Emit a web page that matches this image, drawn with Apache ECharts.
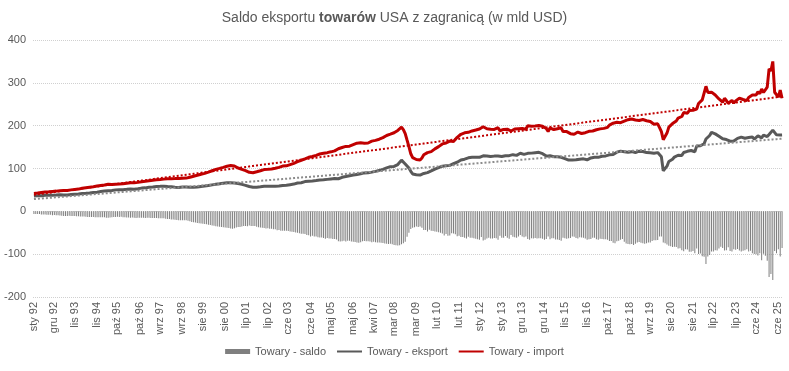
<!DOCTYPE html>
<html><head><meta charset="utf-8">
<script src="https://cdn.jsdelivr.net/npm/echarts@6/dist/echarts.min.js"></script>
<style>html,body{margin:0;padding:0;background:#fff}#c{width:789px;height:371px}</style>
</head><body><div id="c"></div>
<script>
const monthNames = ['sty','lut','mar','kwi','maj','cze','lip','sie','wrz','paź','lis','gru'];
const firstYear = 1992, lastYear = 2025, lastMonth = 8;

// Towary - eksport (mld USD, miesięcznie, sty 1992 - sie 2025)
const eksport = [
35.5,36.0,36.3,36.6,36.2,36.8,37.4,37.0,37.8,38.1,37.6,38.3,
37.9,38.2,38.8,38.5,38.0,38.3,38.1,38.9,39.2,39.8,40.1,40.5,
40.3,41.0,41.5,41.9,42.2,42.5,43.0,43.6,44.1,44.0,44.8,45.6,
46.2,46.9,47.4,47.7,48.3,48.6,48.8,49.5,50.1,50.4,50.6,51.3,
50.6,51.0,51.3,51.7,52.1,52.0,51.8,52.4,52.8,53.5,54.2,54.6,
54.8,55.9,56.3,56.8,57.0,57.5,58.1,57.9,58.3,58.5,58.8,58.4,
58.0,57.8,57.5,57.2,56.5,56.0,55.9,56.4,56.9,57.0,56.8,56.5,
56.1,55.8,56.5,56.8,57.0,57.5,58.1,58.6,59.0,59.6,60.1,60.8,
61.8,62.4,63.0,63.6,64.2,65.1,65.6,66.5,67.0,67.3,66.8,66.1,
66.3,65.9,64.8,63.5,62.9,62.1,60.7,59.8,57.9,56.4,56.1,56.9,
56.5,56.9,57.3,57.9,58.4,58.1,58.6,58.0,58.5,57.9,58.3,57.8,
58.9,59.6,60.1,60.6,61.0,61.8,62.3,62.5,63.6,64.8,66.0,66.9,
66.8,68.3,69.4,69.0,70.4,69.6,71.0,71.4,71.9,72.6,72.9,73.8,
73.6,74.0,74.6,75.2,75.5,76.1,76.4,77.2,76.1,77.9,79.5,80.3,
81.2,81.7,83.1,83.6,84.8,85.5,86.2,87.0,87.6,88.4,89.7,90.1,
89.8,90.8,91.5,92.7,93.3,93.8,95.6,96.8,97.9,99.2,101.4,101.9,
104.3,106.0,104.9,107.8,109.2,112.5,119.5,116.3,110.6,106.9,101.0,93.4,
87.3,85.2,85.6,84.0,84.6,86.2,88.4,87.9,90.3,93.4,94.3,97.6,
98.6,99.8,102.0,103.3,105.4,104.9,106.6,106.2,107.3,110.9,111.1,113.0,
114.7,115.8,120.0,121.5,121.8,122.8,125.0,126.2,126.1,125.5,126.0,126.3,
126.0,128.1,129.5,128.1,129.0,128.3,127.8,126.6,128.9,126.5,129.0,131.0,
128.0,129.4,129.9,130.3,130.0,132.4,132.3,132.0,130.6,134.2,135.5,134.7,
132.9,133.0,135.4,135.0,135.9,136.6,136.9,137.1,137.7,136.3,134.6,134.3,
128.9,127.7,129.6,128.6,127.7,126.2,127.3,124.4,126.1,125.0,122.9,122.0,
119.6,119.1,119.6,120.5,120.2,121.8,121.8,120.9,122.5,120.4,120.3,121.7,
124.7,125.9,126.4,125.4,126.1,128.3,128.6,128.5,129.4,129.9,131.9,132.3,
132.6,134.2,138.2,139.3,140.6,142.0,139.3,137.4,138.0,140.1,139.3,138.6,
137.2,138.9,140.4,136.4,139.7,136.8,137.1,138.0,136.7,137.5,135.7,137.9,
137.1,136.6,127.2,94.4,92.0,105.4,116.5,119.0,121.6,126.7,127.7,131.0,
134.4,130.6,137.4,139.5,140.1,141.0,142.0,143.4,139.1,152.3,152.0,153.1,
155.5,157.9,168.9,172.4,177.1,184.3,180.9,180.8,181.6,175.3,175.7,169.3,
172.5,167.7,168.2,163.9,165.1,164.2,168.0,170.3,172.3,173.2,168.9,170.5,
170.3,172.2,172.9,173.6,168.8,171.4,176.1,176.5,171.5,178.1,176.3,174.5,
179.5,181.0,189.6,185.5,178.5,177.8,178.0,178.2
];

// Towary - import (mld USD, miesięcznie, sty 1992 - sie 2025)
const importT = [
41.5,42.0,42.6,43.1,43.8,44.4,44.9,45.2,45.6,46.2,46.5,47.0,
47.2,47.5,48.3,48.6,48.9,49.2,48.8,49.5,50.1,50.6,51.0,51.8,
51.9,52.8,53.7,54.2,55.1,55.6,56.3,57.1,57.5,58.0,58.9,59.6,
60.2,61.0,61.5,62.4,63.1,63.0,62.5,62.8,63.4,63.1,63.6,63.9,
64.3,65.0,65.5,66.2,66.8,66.5,67.0,67.9,67.6,68.3,68.9,69.5,
70.1,70.8,71.5,72.2,72.6,72.9,73.5,74.0,74.3,74.8,75.2,75.6,
75.8,75.5,76.3,76.0,76.4,76.1,76.8,77.2,77.5,77.9,77.6,78.3,
79.5,80.8,81.9,83.0,84.1,85.3,86.7,87.5,88.6,89.9,91.5,92.7,
94.8,96.3,98.0,99.1,100.2,101.8,102.6,104.0,105.3,106.1,106.8,106.5,
105.8,103.9,101.2,99.8,98.1,96.5,95.0,94.6,91.0,90.8,90.2,91.1,
92.5,93.8,94.9,96.2,97.4,97.9,98.1,98.7,99.0,99.5,100.4,101.8,
102.6,104.7,105.6,105.8,106.2,108.0,109.1,110.2,112.0,114.1,115.9,117.8,
119.2,120.6,122.4,124.5,126.1,128.5,128.0,129.9,130.7,133.0,133.8,134.6,
135.6,137.8,137.0,138.6,138.9,140.5,141.2,142.8,146.1,148.6,149.1,149.0,
151.6,150.3,152.0,153.8,155.6,157.3,159.2,160.6,159.9,158.1,158.9,160.2,
159.6,161.4,163.9,164.0,165.6,166.8,168.4,170.3,172.1,174.5,177.1,178.3,
180.1,182.7,183.5,186.8,188.9,191.7,196.4,190.9,181.6,166.1,150.9,134.4,
125.5,122.1,121.0,120.4,119.8,124.5,131.9,131.5,137.1,136.2,139.4,143.7,
145.9,147.3,151.1,153.5,157.4,161.2,159.5,163.3,163.9,162.0,162.9,166.5,
172.8,172.8,179.9,181.4,183.3,186.5,184.4,187.6,187.7,188.2,189.8,191.4,
192.2,188.2,197.5,194.3,192.7,189.7,191.4,190.1,191.3,189.6,195.2,188.1,
189.9,191.3,187.2,191.8,194.0,187.6,191.5,192.3,192.0,193.0,191.0,193.4,
193.4,191.5,199.7,201.4,198.6,200.0,199.3,200.4,200.3,199.2,198.5,200.6,
193.2,186.5,194.8,191.3,190.8,192.0,192.9,191.2,195.0,186.5,185.7,186.1,
182.3,181.3,178.4,179.9,182.4,185.1,182.5,181.7,184.0,183.6,186.8,186.8,
189.2,187.5,188.3,190.5,192.2,192.5,193.1,193.7,194.3,196.1,201.2,201.6,
205.8,208.5,207.8,207.8,206.9,206.5,210.5,212.3,214.0,217.0,215.4,217.3,
213.1,211.8,212.0,210.0,214.4,212.4,211.6,210.5,209.6,206.8,203.3,205.2,
204.3,195.5,186.1,167.2,166.4,182.7,196.6,200.8,204.9,209.5,211.0,217.6,
220.5,221.4,230.5,228.0,229.2,235.3,236.2,236.0,237.1,238.8,251.8,251.3,
260.2,264.2,291.9,277.7,279.2,278.2,274.5,271.5,273.3,262.3,258.3,254.7,
263.9,258.6,252.2,256.5,258.8,252.6,257.9,258.2,264.0,267.1,261.1,261.5,
258.6,266.0,264.9,271.7,268.7,271.5,279.2,274.4,285.5,277.4,279.8,290.0,
332.7,327.5,350.0,278.0,276.5,266.4,283.2,264.0
];

const tickLabels = ['sty 92','gru 92','lis 93','lis 94','paź 95','paź 96','wrz 97','wrz 98','sie 99','sie 00',
'lip 01','lip 02','cze 03','cze 04','maj 05','maj 06','kwi 07','mar 08','mar 09','lut 10','lut 11','sty 12',
'sty 13','gru 13','gru 14','lis 15','lis 16','paź 17','paź 18','wrz 19','sie 20','sie 21','lip 22','lip 23',
'cze 24','cze 25'];

const seriesNames = ['Towary - saldo','Towary - eksport','Towary - import'];
const titleParts = ['Saldo eksportu ','towarów',' USA z zagranicą (w mld USD)'];

const categories = [];
for (let y = firstYear; y <= lastYear; y++) {
  const mEnd = (y === lastYear) ? lastMonth : 12;
  for (let m = 0; m < mEnd; m++) categories.push(monthNames[m] + ' ' + String(y % 100).padStart(2, '0'));
}
const saldo = eksport.map((v, i) => Math.round((v - importT[i]) * 10) / 10);

function linearTrend(arr) {
  const n = arr.length;
  let sx = 0, sy = 0, sxx = 0, sxy = 0;
  for (let i = 0; i < n; i++) { const x = i + 1; sx += x; sy += arr[i]; sxx += x * x; sxy += x * arr[i]; }
  const b = (n * sxy - sx * sy) / (n * sxx - sx * sx);
  const a = (sy - b * sx) / n;
  return arr.map((_, i) => Math.round((a + b * (i + 1)) * 100) / 100);
}
const trendEksport = linearTrend(eksport);
const trendImport = linearTrend(importT);

const FONT = 'Liberation Sans, Arial, sans-serif';
const chart = echarts.init(document.getElementById('c'), null, { renderer: 'canvas' });
const txt = '#595959';
chart.setOption({
  animation: false,
  textStyle: { fontFamily: FONT },
  title: {
    text: '{n|' + titleParts[0] + '}{b|' + titleParts[1] + '}{n|' + titleParts[2] + '}',
    left: 'center', top: 6,
    textStyle: { fontWeight: 'normal', fontSize: 14, color: txt, rich: {
      n: { fontSize: 14, color: txt, fontWeight: 'normal', fontFamily: FONT },
      b: { fontSize: 14, color: txt, fontWeight: 'bold', fontFamily: FONT }
    } }
  },
  legend: {
    data: [
      { name: seriesNames[0], icon: 'rect' },
      { name: seriesNames[1], itemStyle: { opacity: 0 } },
      { name: seriesNames[2], itemStyle: { opacity: 0 } }
    ],
    bottom: 9, left: 'center', itemWidth: 25, itemHeight: 5, itemGap: 10,
    textStyle: { fontSize: 11, color: txt }
  },
  grid: { left: 33, right: 6, top: 40, bottom: 74, containLabel: false },
  xAxis: {
    type: 'category', data: categories, boundaryGap: true,
    axisLine: { show: false, onZero: false }, axisTick: { show: false },
    axisLabel: {
      rotate: 90, fontSize: 11, color: txt, margin: 5,
      interval: (idx, val) => tickLabels.indexOf(categories[idx]) >= 0
    }
  },
  yAxis: {
    type: 'value', min: -200, max: 400, interval: 100,
    axisLine: { show: false }, axisTick: { show: false },
    axisLabel: { fontSize: 11, color: txt, margin: 7 },
    splitLine: { lineStyle: { color: '#d0d0d0', type: [1, 1], width: 1 } }
  },
  series: [
    { name: seriesNames[0], type: 'bar', data: saldo, barWidth: 1, itemStyle: { color: '#7f7f7f' } },
    { name: 'trend eksport', type: 'line', data: trendEksport, symbol: 'none', silent: true,
      lineStyle: { color: '#8c8c8c', width: 2, type: [2, 2] }, z: 3 },
    { name: 'trend import', type: 'line', data: trendImport, symbol: 'none', silent: true,
      lineStyle: { color: '#c00000', width: 2, type: [2, 2] }, z: 3 },
    { name: seriesNames[1], type: 'line', data: eksport, symbol: 'none',
      lineStyle: { color: '#595959', width: 3 }, itemStyle: { color: '#595959' }, z: 2 },
    { name: seriesNames[2], type: 'line', data: importT, symbol: 'none',
      lineStyle: { color: '#c00000', width: 3 }, itemStyle: { color: '#c00000' }, z: 2 }
  ]
});
</script>
</body></html>
